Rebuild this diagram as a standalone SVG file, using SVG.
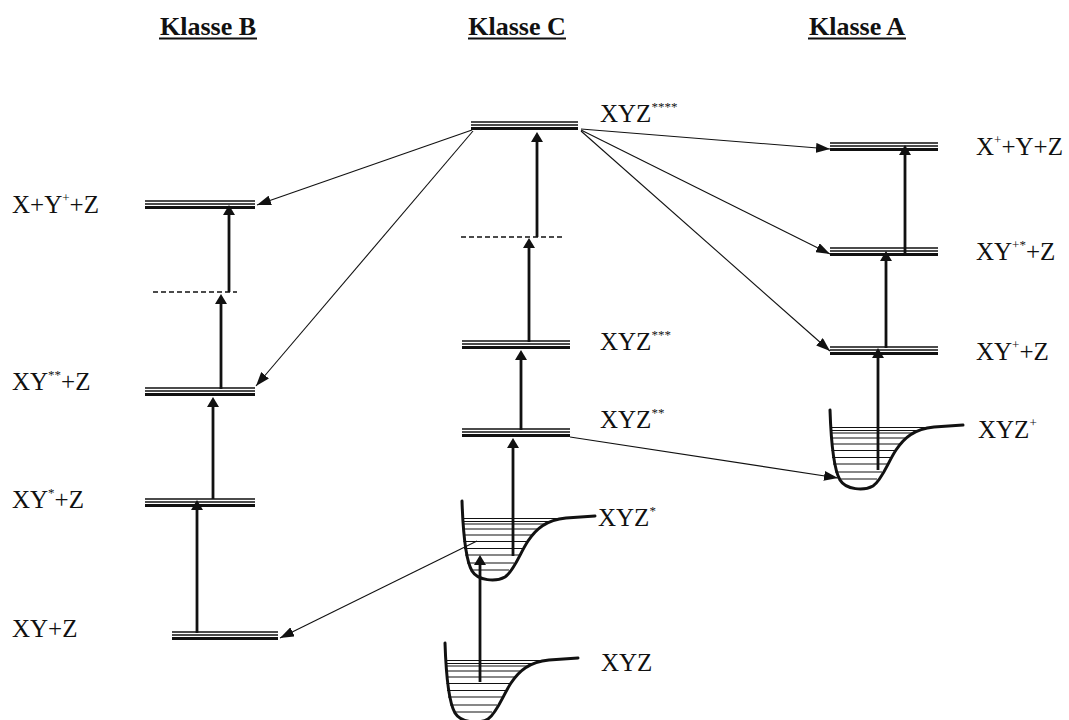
<svg xmlns="http://www.w3.org/2000/svg" width="1069" height="720" viewBox="0 0 1069 720">
  <style>
    .head { font-family: "Liberation Serif", "Times New Roman", serif; font-size: 26px; font-weight: bold; fill: #111; }
    .uline { stroke: #111; stroke-width: 2.2; }
    .lbl { font-family: "Liberation Serif", "Times New Roman", serif; font-size: 25px; fill: #111; }
    .sup { font-size: 13px; }
    .thin { fill: none; stroke: #111; stroke-width: 1.5; }
    .thick { fill: none; stroke: #111; stroke-width: 2.8; }
    .dash { fill: none; stroke: #111; stroke-width: 1.6; stroke-dasharray: 5 3; }
    .well { fill: none; stroke: #111; stroke-width: 3; stroke-linecap: round; stroke-linejoin: round; }
    .rung { fill: none; stroke: #111; stroke-width: 1.1; }
    .up { fill: none; stroke: #111; stroke-width: 2.8; marker-end: url(#head-thick); }
    .link { fill: none; stroke: #111; stroke-width: 1.1; marker-end: url(#head-thin); }
  </style>
  <defs>
    <marker id="head-thick" viewBox="0 0 10 12" refX="3" refY="6" markerWidth="10" markerHeight="12" markerUnits="userSpaceOnUse" orient="auto">
      <path d="M0,0 L10,6 L0,12 z" fill="#111"/>
    </marker>
    <marker id="head-thin" viewBox="0 0 14 10" refX="14" refY="5" markerWidth="14" markerHeight="10" markerUnits="userSpaceOnUse" orient="auto">
      <path d="M0,0 L14,5 L0,10 z" fill="#111"/>
    </marker>
    <!-- potential well with vibrational levels, origin at top of the left wall -->
    <g id="well">
      <path class="rung" d="M1,17.5H98 M1,20.5H88 M1,23H82 M1,28H76 M1,34H71 M1.5,40.5H66 M2,47.5H61 M3,54H57 M5,62H52 M9,69H47"/>
      <path class="well" d="M0,0 C1,30 3,58 10,70 C16,80 34,81 43,76 C52,70 58,52 66,40 C74,28 84,19 104,17 L133,15"/>
    </g>
  </defs>

  <!-- column headings -->
  <g id="heading-b">
    <text class="head" x="208" y="35" text-anchor="middle">Klasse B</text>
    <line class="uline" x1="159" y1="38.5" x2="257" y2="38.5"/>
  </g>
  <g id="heading-c">
    <text class="head" x="517" y="35" text-anchor="middle">Klasse C</text>
    <line class="uline" x1="468" y1="38.5" x2="566" y2="38.5"/>
  </g>
  <g id="heading-a">
    <text class="head" x="857" y="35" text-anchor="middle">Klasse A</text>
    <line class="uline" x1="808" y1="38.5" x2="906" y2="38.5"/>
  </g>

  <!-- Klasse B -->
  <g id="b-x-yplus-z">
    <path class="thin" d="M145,201h110M145,204h110"/>
    <path class="thick" d="M145,207.5h110"/>
    <text class="lbl" x="12" y="213">X+Y<tspan class="sup" dy="-11">+</tspan><tspan dy="11">+Z</tspan></text>
  </g>
  <g id="b-virtual">
    <path class="dash" d="M153,292H237"/>
  </g>
  <g id="b-xy2-z">
    <path class="thin" d="M145,388h110M145,391h110"/>
    <path class="thick" d="M145,394.5h110"/>
    <text class="lbl" x="12" y="390">XY<tspan class="sup" dy="-11">**</tspan><tspan dy="11">+Z</tspan></text>
  </g>
  <g id="b-xy1-z">
    <path class="thin" d="M145,499h110M145,502h110"/>
    <path class="thick" d="M145,505.5h110"/>
    <text class="lbl" x="12" y="508">XY<tspan class="sup" dy="-11">*</tspan><tspan dy="11">+Z</tspan></text>
  </g>
  <g id="b-xy-z">
    <path class="thin" d="M172,632h106M172,635h106"/>
    <path class="thick" d="M172,638.5h106"/>
    <text class="lbl" x="12" y="637">XY+Z</text>
  </g>

  <!-- Klasse C -->
  <g id="c-xyz4">
    <path class="thin" d="M471,122h107M471,125h107"/>
    <path class="thick" d="M471,128.5h107"/>
    <text class="lbl" x="600" y="122">XYZ<tspan class="sup" dy="-11">****</tspan></text>
  </g>
  <g id="c-virtual">
    <path class="dash" d="M461,237H563"/>
  </g>
  <g id="c-xyz3">
    <path class="thin" d="M462,341h108M462,344h108"/>
    <path class="thick" d="M462,347.5h108"/>
    <text class="lbl" x="600" y="350">XYZ<tspan class="sup" dy="-11">***</tspan></text>
  </g>
  <g id="c-xyz2">
    <path class="thin" d="M462,429h108M462,432h108"/>
    <path class="thick" d="M462,435.5h108"/>
    <text class="lbl" x="600" y="428">XYZ<tspan class="sup" dy="-11">**</tspan></text>
  </g>
  <g id="c-xyz1">
    <use href="#well" x="462" y="501"/>
    <text class="lbl" x="598" y="526">XYZ<tspan class="sup" dy="-11">*</tspan></text>
  </g>
  <g id="c-xyz">
    <use href="#well" x="445" y="643"/>
    <text class="lbl" x="601" y="671">XYZ</text>
  </g>

  <!-- Klasse A -->
  <g id="a-xplus-y-z">
    <path class="thin" d="M830,143h108M830,146h108"/>
    <path class="thick" d="M830,149.5h108"/>
    <text class="lbl" x="976" y="155">X<tspan class="sup" dy="-11">+</tspan><tspan dy="11">+Y+Z</tspan></text>
  </g>
  <g id="a-xyplus1-z">
    <path class="thin" d="M830,248h108M830,251h108"/>
    <path class="thick" d="M830,254.5h108"/>
    <text class="lbl" x="976" y="260">XY<tspan class="sup" dy="-11">+*</tspan><tspan dy="11">+Z</tspan></text>
  </g>
  <g id="a-xyplus-z">
    <path class="thin" d="M830,347h108M830,350h108"/>
    <path class="thick" d="M830,353.5h108"/>
    <text class="lbl" x="976" y="360">XY<tspan class="sup" dy="-11">+</tspan><tspan dy="11">+Z</tspan></text>
  </g>
  <g id="a-xyzplus">
    <use href="#well" x="830" y="410"/>
    <text class="lbl" x="978" y="438">XYZ<tspan class="sup" dy="-11">+</tspan></text>
  </g>

  <!-- transitions -->
  <g id="connectors">
    <!-- photon absorption steps -->
    <path class="up" d="M197,633V507"/>
    <path class="up" d="M213,499V404"/>
    <path class="up" d="M221,389V301"/>
    <path class="up" d="M229,292V212"/>
    <path class="up" d="M480,682V562"/>
    <path class="up" d="M513,556V445"/>
    <path class="up" d="M521,430V357"/>
    <path class="up" d="M529,342V245"/>
    <path class="up" d="M537,237V139"/>
    <path class="up" d="M878,470V355"/>
    <path class="up" d="M886,348V258"/>
    <path class="up" d="M905,255V152"/>
    <!-- dissociation / ionisation channels -->
    <path class="link" d="M472,130L257,205"/>
    <path class="link" d="M473,131L256,386"/>
    <path class="link" d="M581,129L830,149"/>
    <path class="link" d="M581,130L830,254"/>
    <path class="link" d="M581,131L830,351"/>
    <path class="link" d="M570,437L838,478"/>
    <path class="link" d="M477,541L280,638"/>
  </g>
</svg>
